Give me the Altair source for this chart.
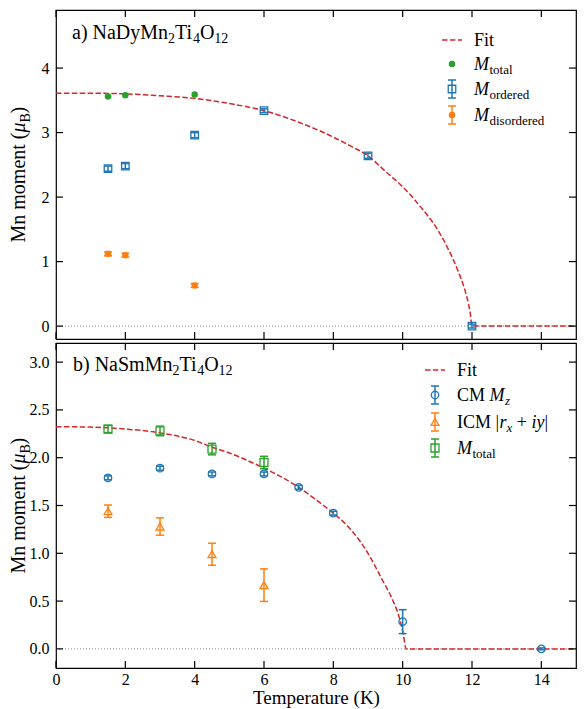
import altair as alt
import pandas as pd

# ---------------- data: panel a) NaDyMn2Ti4O12 ----------------
a_total_T = [1.5, 2.0, 4.0]
a_total_M = [3.56, 3.58, 3.59]
a_ord_T = [1.5, 2.0, 4.0, 6.0, 9.0, 12.0]
a_ord_M = [2.44, 2.48, 2.96, 3.34, 2.64, 0.0]
a_ord_E = [0.04, 0.04, 0.04, 0.03, 0.04, 0.03]
a_dis_T = [1.5, 2.0, 4.0]
a_dis_M = [1.12, 1.10, 0.63]
a_dis_E = [0.03, 0.03, 0.03]
a_fit_T = [0, 1, 2, 3, 4, 5, 6, 7, 8, 8.5, 9, 9.5, 10, 10.5, 11, 11.3, 11.6, 11.8, 11.9, 11.95, 12, 15]
a_fit_M = [3.61, 3.61, 3.60, 3.57, 3.53, 3.45, 3.34, 3.16, 2.93, 2.79, 2.64, 2.40, 2.16, 1.86, 1.50,
           1.21, 0.85, 0.55, 0.34, 0.20, 0.0, 0.0]

# ---------------- data: panel b) NaSmMn2Ti4O12 ----------------
b_cm_T = [1.5, 3.0, 4.5, 6.0, 7.0, 8.0, 10.0, 14.0]
b_cm_M = [1.79, 1.89, 1.83, 1.83, 1.69, 1.42, 0.285, 0.0]
b_cm_E = [0.02, 0.02, 0.02, 0.02, 0.02, 0.02, 0.125, 0.01]
b_icm_T = [1.5, 3.0, 4.5, 6.0]
b_icm_M = [1.44, 1.28, 0.99, 0.667]
b_icm_E = [0.065, 0.09, 0.115, 0.17]
b_tot_T = [1.5, 3.0, 4.5, 6.0]
b_tot_M = [2.30, 2.28, 2.09, 1.95]
b_tot_E = [0.038, 0.05, 0.06, 0.065]
b_fit_T = [0, 1, 2, 3, 4, 4.5, 5, 6, 6.5, 7, 7.5, 8, 8.5, 9, 9.4, 9.7, 9.9, 10.02, 10.1, 15]
b_fit_M = [2.325, 2.32, 2.30, 2.26, 2.18, 2.11, 2.05, 1.89, 1.80, 1.69, 1.56, 1.42, 1.25, 1.00,
           0.73, 0.52, 0.33, 0.15, 0.0, 0.0]

x_ticks = [0, 2, 4, 6, 8, 10, 12, 14]
a_y_ticks = [0, 1, 2, 3, 4]
b_y_ticks = [0.0, 0.5, 1.0, 1.5, 2.0, 2.5, 3.0]

FONT = "Liberation Serif"
RED, BLUE, ORANGE, GREEN = "#d62728", "#1f77b4", "#ff7f0e", "#2ca02c"
W = 520
LF, SF = 18, 13  # legend font, legend subscript font
ONE = pd.DataFrame({"k": [0]})


def tdf(T, M, E=None):
    d = {"T": T, "M": M}
    if E is not None:
        d["E"] = E
    return pd.DataFrame(d)


def txt(s, x, y, size=LF, italic=False, angle=0):
    return alt.Chart(ONE).mark_text(
        text=s, font=FONT, fontSize=size, fontStyle="italic" if italic else "normal",
        align="left", baseline="alphabetic", angle=angle, color="black"
    ).encode(x=alt.value(x), y=alt.value(y))


def leg_fit(x, y):
    return alt.Chart(ONE).mark_rule(color=RED, strokeWidth=1.5, strokeDash=[5.5, 2.4]).encode(
        x=alt.value(x - 10), x2=alt.value(x + 10), y=alt.value(y))


def leg_sym(x, y, color, shape, filled, size, err=True, half=9):
    layers = []
    if err:
        layers.append(alt.Chart(ONE).mark_rule(color=color, strokeWidth=1.5).encode(
            x=alt.value(x), y=alt.value(y - half), y2=alt.value(y + half)))
        for yy in (y - half, y + half):
            layers.append(alt.Chart(ONE).mark_rule(color=color, strokeWidth=1.5).encode(
                x=alt.value(x - 4), x2=alt.value(x + 4), y=alt.value(yy)))
    layers.append(alt.Chart(ONE).mark_point(shape=shape, color=color, filled=filled, size=size,
                                            strokeWidth=1.3, opacity=1).encode(
        x=alt.value(x), y=alt.value(y)))
    return layers


def build_panel(H, ydom, yvals, yfmt, show_x, fitT, fitM, series, legend, texts):
    xs = alt.Scale(domain=[0, 15], nice=False, zero=False)
    ys = alt.Scale(domain=ydom, nice=False, zero=False)
    xa = alt.Axis(values=x_ticks, format="d", title="Temperature (K)", labelPadding=3,
                  titlePadding=1, labelFont=FONT, titleFont=FONT, labelFlush=False) if show_x else None
    ya = alt.Axis(values=yvals, format=yfmt, title=None, labelPadding=7, labelFont=FONT)

    def X(f):
        return alt.X(f, type="quantitative", scale=xs, axis=xa)

    def Y(f):
        return alt.Y(f, type="quantitative", scale=ys, axis=ya)

    layers = []
    layers.append(alt.Chart(pd.DataFrame({"v": [0.0]})).mark_rule(
        color="#8c8c8c", strokeWidth=1, strokeDash=[1, 2]).encode(y=Y("v")))
    layers.append(alt.Chart(tdf(fitT, fitM)).mark_line(
        color=RED, strokeWidth=1.5, strokeDash=[5.5, 2.4], interpolate="monotone").encode(
        x=X("T"), y=Y("M")))
    for df, color, shape, filled, size in series:
        if "E" in df.columns:
            base = alt.Chart(df).transform_calculate(lo="datum.M - datum.E", hi="datum.M + datum.E")
            layers.append(base.mark_rule(color=color, strokeWidth=1.5).encode(
                x=X("T"), y=Y("lo"), y2=alt.Y2("hi")))
            for f in ("lo", "hi"):
                layers.append(base.mark_tick(color=color, orient="horizontal", size=8,
                                             thickness=1.5, opacity=1).encode(x=X("T"), y=Y(f)))
        layers.append(alt.Chart(df).mark_point(shape=shape, color=color, filled=filled, size=size,
                                               strokeWidth=1.3, opacity=1).encode(
            x=X("T"), y=Y("M")))
    # inward ticks on all four sides
    xt = pd.DataFrame({"t": x_ticks})
    yt = pd.DataFrame({"t": yvals})
    tk = dict(color="black", strokeWidth=1.2)
    layers.append(alt.Chart(xt).mark_rule(**tk).encode(x=X("t"), y=alt.value(H), y2=alt.value(H - 7)))
    layers.append(alt.Chart(xt).mark_rule(**tk).encode(x=X("t"), y=alt.value(0), y2=alt.value(7)))
    layers.append(alt.Chart(yt).mark_rule(**tk).encode(y=Y("t"), x=alt.value(0), x2=alt.value(7)))
    layers.append(alt.Chart(yt).mark_rule(**tk).encode(y=Y("t"), x=alt.value(W), x2=alt.value(W - 7)))
    layers += legend
    layers += texts
    return alt.layer(*layers).properties(width=W, height=H)


def ytitle(H):
    c = H / 2
    y0 = c + 68
    x0 = -31
    return [
        txt("Mn moment (", x0, y0, 20, angle=270),
        txt("\u03bc", x0, y0 - 110, 20, italic=True, angle=270),
        txt("B", x0 + 4.5, y0 - 120, 14, angle=270),
        txt(")", x0, y0 - 129, 20, angle=270),
    ]


def formula(prefix, x0, base):
    w = {"a) NaDyMn": 96.1, "b) NaSmMn": 99.4}[prefix]
    return [
        txt(prefix, x0, base, 20),
        txt("2", x0 + w, base + 4, 14),
        txt("Ti", x0 + w + 7, base, 20),
        txt("4", x0 + w + 24.8, base + 4, 14),
        txt("O", x0 + w + 31.8, base, 20),
        txt("12", x0 + w + 46.2, base + 4, 14),
    ]


def m_sub(x, y, sub):
    return [txt("M", x, y + 6, italic=True), txt(sub, x + 15.5, y + 10, SF)]


# ---------------- panel a ----------------
Ha = 329
lxa, tx_a = 396, 418
rows_a = [30, 54, 79, 105]
leg_a = [leg_fit(lxa, rows_a[0]), txt("Fit", tx_a, rows_a[0] + 6)]
leg_a += leg_sym(lxa, rows_a[1], GREEN, "circle", True, 42, err=False)
leg_a += m_sub(tx_a, rows_a[1], "total")
leg_a += leg_sym(lxa, rows_a[2], BLUE, "square", False, 56)
leg_a += m_sub(tx_a, rows_a[2], "ordered")
leg_a += leg_sym(lxa, rows_a[3], ORANGE, "circle", True, 42)
leg_a += m_sub(tx_a, rows_a[3], "disordered")

series_a = [
    (tdf(a_total_T, a_total_M), GREEN, "circle", True, 42),
    (tdf(a_ord_T, a_ord_M, a_ord_E), BLUE, "square", False, 56),
    (tdf(a_dis_T, a_dis_M, a_dis_E), ORANGE, "circle", True, 42),
]
panel_a = build_panel(Ha, [-0.2, 4.9], a_y_ticks, "d", False, a_fit_T, a_fit_M, series_a, leg_a,
                      formula("a) NaDyMn", 16, 29) + ytitle(Ha))

# ---------------- panel b ----------------
Hb = 325
lxb, tx_b = 379, 401
rows_b = [27, 52, 79, 105]
leg_b = [leg_fit(lxb, rows_b[0]), txt("Fit", tx_b, rows_b[0] + 6)]
leg_b += leg_sym(lxb, rows_b[1], BLUE, "circle", False, 56)
leg_b += [txt("CM", tx_b, rows_b[1] + 6), txt("M", tx_b + 32.5, rows_b[1] + 6, italic=True),
          txt("z", tx_b + 48, rows_b[1] + 10, SF, italic=True)]
leg_b += leg_sym(lxb, rows_b[2], ORANGE, "triangle-up", False, 64)
r = rows_b[2]
leg_b += [txt("ICM", tx_b, r + 6), txt("|", tx_b + 38.5, r + 6),
          txt("r", tx_b + 42.5, r + 6, italic=True),
          txt("x", tx_b + 49.5, r + 10, SF, italic=True),
          txt("+", tx_b + 59.8, r + 6),
          txt("iy", tx_b + 74.5, r + 6, italic=True),
          txt("|", tx_b + 87.5, r + 6)]
leg_b += leg_sym(lxb, rows_b[3], GREEN, "square", False, 64)
leg_b += m_sub(tx_b, rows_b[3], "total")

series_b = [
    (tdf(b_cm_T, b_cm_M, b_cm_E), BLUE, "circle", False, 56),
    (tdf(b_icm_T, b_icm_M, b_icm_E), ORANGE, "triangle-up", False, 64),
    (tdf(b_tot_T, b_tot_M, b_tot_E), GREEN, "square", False, 64),
]
panel_b = build_panel(Hb, [-0.2, 3.2], b_y_ticks, ".1f", True, b_fit_T, b_fit_M, series_b, leg_b,
                      formula("b) NaSmMn", 17, 28) + ytitle(Hb))

chart = alt.vconcat(panel_a, panel_b, spacing=0).configure(
    font=FONT
).configure_concat(spacing=0).configure_view(
    stroke="black", strokeWidth=1.2
).configure_axis(
    labelFont=FONT, labelFontSize=16, labelColor="black", titleFont=FONT, titleFontSize=19,
    titleFontWeight="normal", titleColor="black", grid=False, domain=False, ticks=False, tickSize=0
).properties(padding={"left": 0, "top": 0, "right": -3, "bottom": 0})

chart.save("out.html", embed_options={"renderer": "svg", "actions": False})
